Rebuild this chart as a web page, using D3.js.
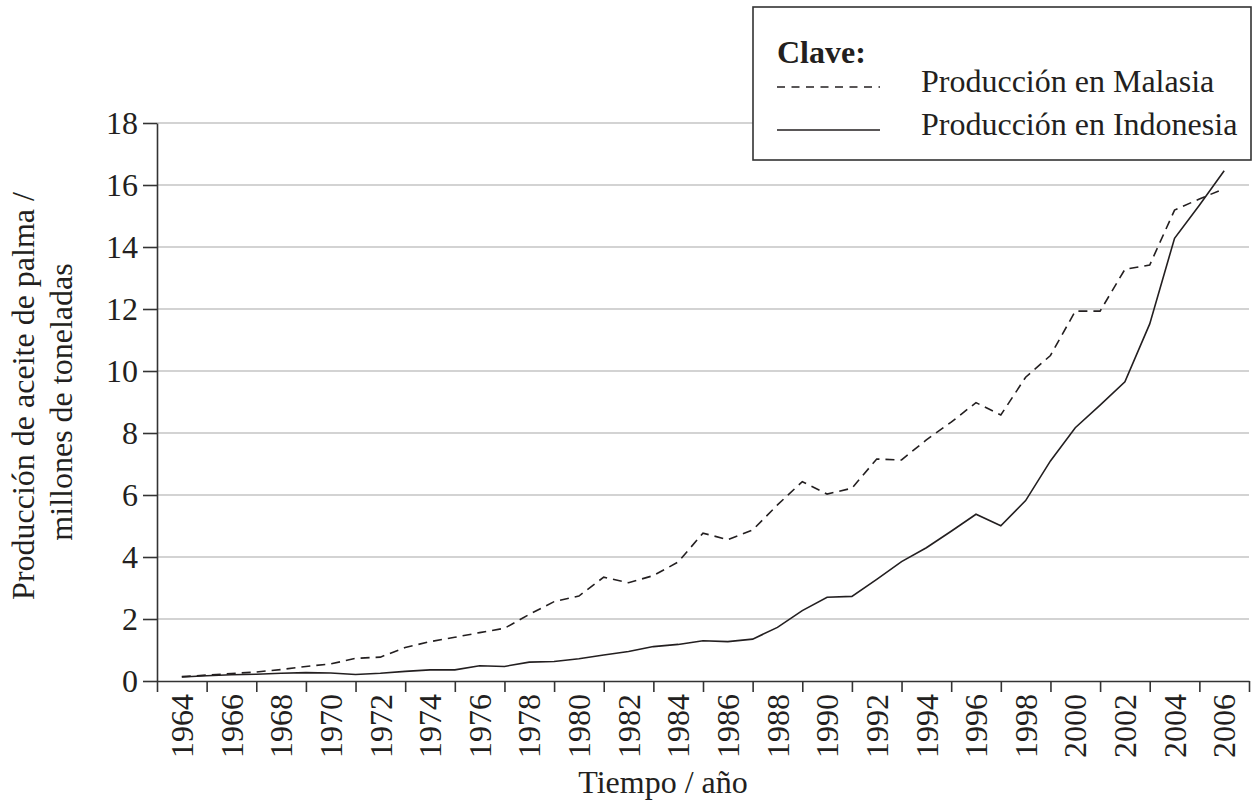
<!DOCTYPE html>
<html>
<head>
<meta charset="utf-8">
<script src="https://cdn.jsdelivr.net/npm/d3@7"></script>
<style>
  body { margin: 0; background: #fff; }
  text { font-family: "Liberation Serif", "Times New Roman", serif; fill: #231f20; }
</style>
</head>
<body>
<div id="chart"></div>
<script>
// Chart data (millions of tonnes)
var years = [1964, 1965, 1966, 1967, 1968, 1969, 1970, 1971, 1972, 1973, 1974,
  1975, 1976, 1977, 1978, 1979, 1980, 1981, 1982, 1983, 1984, 1985, 1986, 1987,
  1988, 1989, 1990, 1991, 1992, 1993, 1994, 1995, 1996, 1997, 1998, 1999, 2000,
  2001, 2002, 2003, 2004, 2005, 2006];

var malaysia = [0.14, 0.19, 0.24, 0.29, 0.37, 0.47, 0.55, 0.73, 0.77, 1.08, 1.27,
  1.41, 1.56, 1.70, 2.15, 2.56, 2.74, 3.35, 3.17, 3.40, 3.84, 4.77, 4.56, 4.87,
  5.68, 6.43, 6.03, 6.22, 7.16, 7.13, 7.78, 8.35, 8.98, 8.58, 9.80, 10.50, 11.93,
  11.93, 13.28, 13.42, 15.19, 15.55, 15.88];

var indonesia = [0.13, 0.17, 0.20, 0.22, 0.25, 0.27, 0.26, 0.21, 0.25, 0.31, 0.36,
  0.36, 0.49, 0.47, 0.61, 0.63, 0.72, 0.84, 0.95, 1.11, 1.18, 1.30, 1.27, 1.35,
  1.73, 2.27, 2.70, 2.73, 3.28, 3.85, 4.30, 4.83, 5.38, 5.01, 5.82, 7.10, 8.17,
  8.90, 9.65, 11.52, 14.28, 15.35, 16.46];

var yTicks = [0, 2, 4, 6, 8, 10, 12, 14, 16, 18];
var xTickYears = d3.range(1963, 2008, 2);   // tick marks between labels
var xLabelYears = d3.range(1964, 2007, 2);  // labels

var svgWidth = 1253;
var svgHeight = 805;
var ink = "#231f20";
var fontSize = "32px";

var svg = d3.select("#chart")
  .append("svg")
  .attr("width", svgWidth)
  .attr("height", svgHeight);

svg.append("rect")
  .attr("width", svgWidth)
  .attr("height", svgHeight)
  .attr("fill", "#fff");

// scales
var x = d3.scaleLinear().domain([1963, 2007]).range([157, 1249]);
var y = d3.scaleLinear().domain([0, 18]).range([681, 123]);

// gridlines
svg.append("g")
  .selectAll("line")
  .data(yTicks.filter(d => d > 0))
  .enter()
  .append("line")
  .attr("x1", x(1963))
  .attr("x2", x(2007))
  .attr("y1", d => y(d))
  .attr("y2", d => y(d))
  .attr("stroke", "#c4c4c4")
  .attr("stroke-width", 1.5);

// y axis
var yAxis = svg.append("g")
  .attr("transform", `translate(${x(1963)}, 0)`)
  .call(d3.axisLeft(y).tickValues(yTicks).tickSize(14).tickPadding(5).tickSizeOuter(0));

yAxis.selectAll("text")
  .style("font-size", fontSize)
  .style("font-family", "'Liberation Serif', 'Times New Roman', serif")
  .attr("fill", ink);

// x axis (ticks only, labels drawn rotated below)
var xAxis = svg.append("g")
  .attr("transform", `translate(0, ${y(0)})`)
  .call(d3.axisBottom(x).tickValues(xTickYears).tickSize(11).tickFormat("").tickSizeOuter(0));

svg.selectAll(".domain, .tick line")
  .attr("stroke", "#333")
  .attr("stroke-width", 1.6);

svg.append("g")
  .selectAll("text")
  .data(xLabelYears)
  .enter()
  .append("text")
  .attr("transform", d => `translate(${x(d)}, 694) rotate(-90)`)
  .attr("text-anchor", "end")
  .attr("dy", "0.35em")
  .style("font-size", fontSize)
  .text(d => d);

// lines
var line = d3.line()
  .x((d, i) => x(years[i]))
  .y(d => y(d));

svg.append("path")
  .datum(malaysia)
  .attr("d", line)
  .attr("fill", "none")
  .attr("stroke", ink)
  .attr("stroke-width", 1.6)
  .attr("stroke-dasharray", "9,6");

svg.append("path")
  .datum(indonesia)
  .attr("d", line)
  .attr("fill", "none")
  .attr("stroke", ink)
  .attr("stroke-width", 1.6);

// axis titles
svg.append("text")
  .attr("x", 663)
  .attr("y", 793)
  .attr("text-anchor", "middle")
  .style("font-size", fontSize)
  .text("Tiempo / año");

var yTitle = svg.append("g")
  .attr("text-anchor", "middle")
  .style("font-size", fontSize);

yTitle.append("text")
  .attr("transform", "translate(34, 396) rotate(-90)")
  .text("Producción de aceite de palma /");

yTitle.append("text")
  .attr("transform", "translate(72, 402) rotate(-90)")
  .text("millones de toneladas");

// legend
var legend = svg.append("g");

legend.append("rect")
  .attr("x", 753)
  .attr("y", 7)
  .attr("width", 498)
  .attr("height", 153)
  .attr("fill", "#fff")
  .attr("stroke", "#333")
  .attr("stroke-width", 1.6);

legend.append("text")
  .attr("x", 777)
  .attr("y", 63)
  .style("font-size", fontSize)
  .style("font-weight", "bold")
  .text("Clave:");

legend.append("line")
  .attr("x1", 777).attr("x2", 880)
  .attr("y1", 87).attr("y2", 87)
  .attr("stroke", ink)
  .attr("stroke-width", 1.6)
  .attr("stroke-dasharray", "8,6.5");

legend.append("text")
  .attr("x", 921)
  .attr("y", 92)
  .style("font-size", fontSize)
  .text("Producción en Malasia");

legend.append("line")
  .attr("x1", 777).attr("x2", 880)
  .attr("y1", 130).attr("y2", 130)
  .attr("stroke", ink)
  .attr("stroke-width", 1.6);

legend.append("text")
  .attr("x", 921)
  .attr("y", 135)
  .style("font-size", fontSize)
  .text("Producción en Indonesia");
</script>
</body>
</html>
